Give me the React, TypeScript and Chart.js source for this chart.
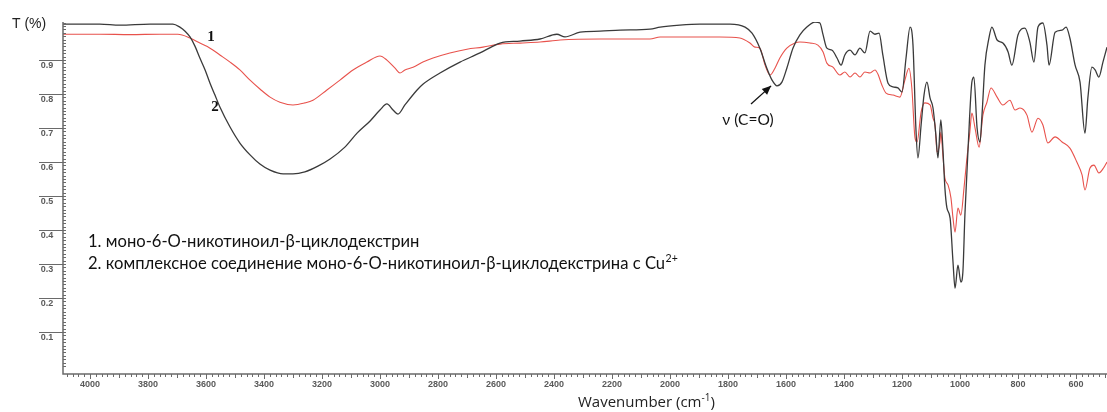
import React, { useEffect, useRef } from "react";
import { Chart, registerables } from "chart.js";

Chart.register(...registerables);

// Series 2: complex with Cu2+ (black)
const wn2 = [4093, 3966, 3897, 3793, 3714, 3690, 3672, 3655, 3638, 3621, 3603, 3586, 3569, 3552, 3517, 3483, 3448, 3414, 3379, 3334, 3300, 3259, 3214, 3172, 3121, 3079, 3034, 3000, 2976, 2955, 2938, 2914, 2872, 2852, 2793, 2724, 2655, 2610, 2586, 2517, 2448, 2390, 2362, 2310, 2241, 2172, 2069, 2034, 1966, 1897, 1793, 1741, 1717, 1690, 1666, 1648, 1631, 1614, 1597, 1576, 1552, 1528, 1500, 1483, 1472, 1459, 1441, 1424, 1410, 1397, 1379, 1362, 1345, 1328, 1310, 1293, 1279, 1266, 1248, 1231, 1214, 1200, 1186, 1172, 1162, 1152, 1145, 1134, 1124, 1114, 1103, 1093, 1083, 1076, 1066, 1059, 1052, 1045, 1034, 1024, 1017, 1007, 997, 990, 983, 972, 959, 952, 941, 931, 924, 914, 900, 890, 872, 852, 834, 821, 800, 776, 759, 745, 731, 714, 700, 693, 672, 648, 634, 621, 603, 586, 569, 559, 545, 534, 521, 507, 493];
const t2 = [1.006, 1.006, 1.003, 1.006, 1.006, 0.997, 0.985, 0.968, 0.941, 0.906, 0.871, 0.832, 0.797, 0.762, 0.703, 0.656, 0.621, 0.594, 0.576, 0.565, 0.565, 0.571, 0.588, 0.609, 0.644, 0.685, 0.721, 0.753, 0.771, 0.753, 0.741, 0.768, 0.812, 0.829, 0.862, 0.894, 0.921, 0.941, 0.95, 0.956, 0.962, 0.976, 0.968, 0.982, 0.985, 0.988, 0.991, 0.997, 1.003, 1.006, 1.006, 0.997, 0.979, 0.935, 0.876, 0.841, 0.824, 0.835, 0.876, 0.935, 0.974, 0.997, 1.012, 1.009, 0.974, 0.935, 0.929, 0.906, 0.885, 0.915, 0.929, 0.915, 0.935, 0.921, 0.985, 0.976, 0.979, 0.915, 0.832, 0.821, 0.818, 0.806, 0.906, 0.997, 0.944, 0.7, 0.612, 0.709, 0.797, 0.835, 0.788, 0.759, 0.679, 0.612, 0.724, 0.641, 0.524, 0.465, 0.435, 0.306, 0.229, 0.297, 0.247, 0.276, 0.444, 0.641, 0.835, 0.85, 0.7, 0.659, 0.738, 0.885, 0.965, 0.997, 0.959, 0.95, 0.924, 0.885, 0.974, 0.994, 0.953, 0.894, 0.997, 1.009, 0.944, 0.885, 0.982, 0.988, 0.997, 0.965, 0.885, 0.835, 0.685, 0.788, 0.879, 0.871, 0.85, 0.894, 0.938];

// Series 1: mono-6-O-nicotinoyl-beta-cyclodextrin (red)
const wn1 = [4093, 3966, 3862, 3759, 3697, 3655, 3621, 3586, 3552, 3517, 3483, 3448, 3414, 3379, 3345, 3300, 3259, 3231, 3183, 3138, 3093, 3045, 3000, 2976, 2948, 2931, 2914, 2886, 2852, 2817, 2759, 2700, 2645, 2586, 2517, 2448, 2379, 2241, 2172, 2069, 2034, 1931, 1828, 1759, 1724, 1707, 1690, 1672, 1655, 1638, 1621, 1597, 1569, 1552, 1517, 1490, 1472, 1459, 1438, 1414, 1397, 1379, 1362, 1345, 1328, 1310, 1293, 1283, 1269, 1255, 1231, 1207, 1190, 1176, 1166, 1155, 1148, 1134, 1121, 1103, 1093, 1086, 1079, 1069, 1066, 1059, 1052, 1041, 1031, 1024, 1017, 1007, 997, 986, 976, 966, 959, 948, 934, 921, 907, 893, 872, 852, 828, 810, 793, 769, 752, 731, 714, 697, 672, 648, 621, 597, 579, 569, 552, 538, 521, 503, 493];
const t1 = [0.976, 0.976, 0.975, 0.976, 0.976, 0.965, 0.95, 0.935, 0.915, 0.894, 0.871, 0.841, 0.815, 0.791, 0.776, 0.768, 0.774, 0.782, 0.812, 0.841, 0.871, 0.894, 0.912, 0.9, 0.876, 0.862, 0.871, 0.879, 0.894, 0.906, 0.921, 0.932, 0.938, 0.947, 0.95, 0.953, 0.959, 0.962, 0.962, 0.962, 0.968, 0.968, 0.968, 0.965, 0.95, 0.938, 0.935, 0.885, 0.856, 0.876, 0.906, 0.935, 0.95, 0.953, 0.95, 0.944, 0.924, 0.891, 0.879, 0.856, 0.865, 0.85, 0.862, 0.85, 0.865, 0.862, 0.871, 0.859, 0.826, 0.803, 0.797, 0.791, 0.841, 0.876, 0.818, 0.671, 0.659, 0.747, 0.774, 0.768, 0.729, 0.709, 0.629, 0.659, 0.688, 0.621, 0.553, 0.532, 0.494, 0.435, 0.394, 0.465, 0.444, 0.524, 0.612, 0.688, 0.744, 0.7, 0.644, 0.738, 0.776, 0.818, 0.791, 0.768, 0.782, 0.753, 0.759, 0.738, 0.688, 0.729, 0.709, 0.656, 0.674, 0.659, 0.641, 0.6, 0.562, 0.518, 0.582, 0.591, 0.568, 0.585, 0.6];

const yTickValues = [0.1, 0.2, 0.3, 0.4, 0.5, 0.6, 0.7, 0.8, 0.9];
const xTickValues = [4000, 3800, 3600, 3400, 3200, 3000, 2800, 2600, 2400, 2200, 2000, 1800, 1600, 1400, 1200, 1000, 800, 600];

const legendLine1 = "1. моно-6-О-никотиноил-β-циклодекстрин";
const legendLine2 = "2. комплексное соединение моно-6-О-никотиноил-β-циклодекстрина с Cu";
const legendSup = "2+";
const yTitle = "T (%)";
const xTitle = "Wavenumber (cm";
const annotation = "ν (C=O)";

const X_MIN = 493;
const X_MAX = 4093;
const Y_MIN = -0.0235;
const Y_MAX = 1.012;

const decorPlugin = {
  id: "decor",
  afterDraw(chart: any) {
    const ctx = chart.ctx as CanvasRenderingContext2D;
    const xs = chart.scales.x;
    const ys = chart.scales.y;
    const { left, right, top, bottom } = chart.chartArea;
    ctx.save();
    const axisColor = "#6a6a6a";
    ctx.strokeStyle = axisColor;
    ctx.lineWidth = 1.5;
    ctx.beginPath();
    ctx.moveTo(left, top);
    ctx.lineTo(left, bottom);
    ctx.lineTo(right, bottom);
    ctx.stroke();

    // y minor ticks
    ctx.lineWidth = 1;
    ctx.beginPath();
    for (let i = 0; i <= 101; i++) {
      const v = i / 100;
      const py = Math.round(ys.getPixelForValue(v)) + 0.5;
      if (py < top || py > bottom) continue;
      ctx.moveTo(left, py);
      ctx.lineTo(left + 3, py);
    }
    ctx.stroke();

    // y major ticks + labels (label below the tick line)
    ctx.fillStyle = "#5a5a5a";
    ctx.font = "bold 9px 'Liberation Sans', Arial, sans-serif";
    ctx.textAlign = "center";
    ctx.textBaseline = "top";
    for (const v of yTickValues) {
      const py = Math.round(ys.getPixelForValue(v)) + 0.5;
      ctx.beginPath();
      ctx.moveTo(left - 24, py);
      ctx.lineTo(left, py);
      ctx.stroke();
      ctx.fillText(v.toFixed(1), left - 16, py + 1);
    }

    // x ticks
    ctx.beginPath();
    for (let w = 500; w <= 4080; w += 20) {
      const px = Math.round(xs.getPixelForValue(w)) + 0.5;
      if (px < left || px > right) continue;
      const len = w % 200 === 0 ? 5 : w % 100 === 0 ? 4 : 3;
      ctx.moveTo(px, bottom);
      ctx.lineTo(px, bottom + len);
    }
    ctx.stroke();
    ctx.textBaseline = "middle";
    for (const w of xTickValues) {
      const px = xs.getPixelForValue(w);
      ctx.fillText(String(w), px, bottom + 11);
    }

    // axis titles
    ctx.fillStyle = "#222";
    ctx.font = "14px 'Liberation Sans', Arial, sans-serif";
    ctx.textAlign = "left";
    ctx.textBaseline = "middle";
    ctx.fillText(yTitle, 12, 24);
    const xtX = 578;
    const xtY = 403;
    ctx.font = "15px 'Open Sans', sans-serif";
    ctx.fillText(xTitle, xtX, xtY);
    const wpx = ctx.measureText(xTitle).width;
    ctx.font = "10px 'Open Sans', sans-serif";
    ctx.fillText("-1", xtX + wpx, xtY - 5);
    const sw = ctx.measureText("-1").width;
    ctx.font = "15px 'Open Sans', sans-serif";
    ctx.fillText(")", xtX + wpx + sw, xtY);

    // legend text
    ctx.fillStyle = "#111";
    ctx.font = "16.6px Lato, 'Open Sans', sans-serif";
    ctx.fillText(legendLine1, 88, 242);
    ctx.fillText(legendLine2, 88, 264);
    const l2w = ctx.measureText(legendLine2).width;
    ctx.font = "10.5px Lato, 'Open Sans', sans-serif";
    ctx.fillText(legendSup, 88 + l2w + 0.5, 259);

    // curve number labels
    ctx.font = "bold 15px 'Liberation Serif', 'DejaVu Serif', serif";
    ctx.textAlign = "center";
    ctx.fillText("1", 211, 37);
    ctx.fillText("2", 215, 107);

    // annotation
    ctx.font = "15.5px Lato, 'Open Sans', sans-serif";
    ctx.fillText(annotation, 748, 120);
    // arrow
    const ax0 = 751, ay0 = 104;
    const ax1 = xs.getPixelForValue(1634) - 5;
    const ay1 = ys.getPixelForValue(0.83) + 2;
    ctx.strokeStyle = "#111";
    ctx.lineWidth = 1.3;
    ctx.beginPath();
    ctx.moveTo(ax0, ay0);
    ctx.lineTo(ax1, ay1);
    ctx.stroke();
    const ang = Math.atan2(ay1 - ay0, ax1 - ax0);
    const hl = 9, hw = 4;
    ctx.beginPath();
    ctx.moveTo(ax1, ay1);
    ctx.lineTo(ax1 - hl * Math.cos(ang) + hw * Math.sin(ang), ay1 - hl * Math.sin(ang) - hw * Math.cos(ang));
    ctx.lineTo(ax1 - hl * Math.cos(ang) - hw * Math.sin(ang), ay1 - hl * Math.sin(ang) + hw * Math.cos(ang));
    ctx.closePath();
    ctx.fillStyle = "#111";
    ctx.fill();
    ctx.restore();
  },
};

export default function App() {
  const ref = useRef<HTMLCanvasElement | null>(null);
  useEffect(() => {
    if (!ref.current) return;
    const chart = new Chart(ref.current, {
      type: "line",
      data: {
        datasets: [
          {
            label: "2",
            data: wn2.map((w, i) => ({ x: w, y: t2[i] })),
            borderColor: "#3a3a3a",
            borderWidth: 1.3,
            pointRadius: 0,
            cubicInterpolationMode: "monotone",
            fill: false,
          },
          {
            label: "1",
            data: wn1.map((w, i) => ({ x: w, y: t1[i] })),
            borderColor: "#e8524c",
            borderWidth: 1.1,
            pointRadius: 0,
            cubicInterpolationMode: "monotone",
            fill: false,
          },
        ],
      },
      options: {
        animation: false,
        responsive: false,
        devicePixelRatio: 1,
        layout: { padding: { left: 63, top: 22, right: 0, bottom: 38 } },
        plugins: { legend: { display: false }, tooltip: { enabled: false } },
        scales: {
          x: { type: "linear", reverse: true, min: X_MIN, max: X_MAX, display: false },
          y: { type: "linear", min: Y_MIN, max: Y_MAX, display: false },
        },
      },
      plugins: [decorPlugin],
    } as any);
    return () => chart.destroy();
  }, []);
  return (
    <div style={{ position: "absolute", left: 0, top: 0, width: 1107, height: 412, background: "#fff" }}>
      <canvas ref={ref} width={1107} height={412} style={{ display: "block" }} />
    </div>
  );
}
